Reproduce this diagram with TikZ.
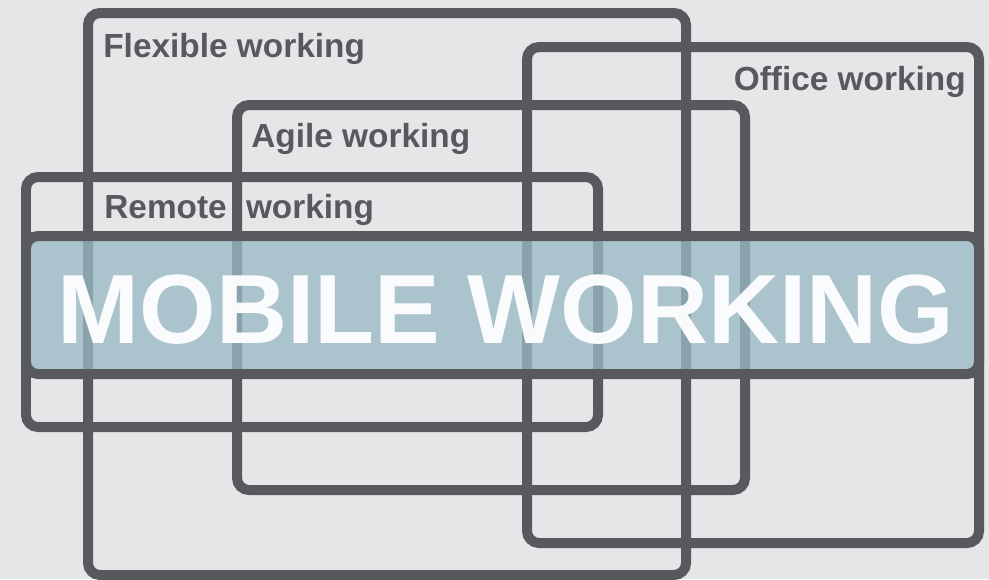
\documentclass[tikz,border=0pt]{standalone}
\usepackage{fontspec}
\setmainfont{Liberation Sans}
\usepackage{tikz}
\definecolor{bggray}{RGB}{229,230,232}
\definecolor{framegray}{RGB}{88,89,93}
\definecolor{mobileblue}{RGB}{154,185,197}
\tikzset{frame/.style={line width=0.2cm, draw=framegray, rounded corners=0.24cm}, lbl/.style={text=framegray, inner sep=0pt, font=\fontsize{19}{21}\selectfont\bfseries}}

\begin{document}
\begin{tikzpicture}[x=0.02cm,y=-0.02cm]
	% field
	\fill [bggray] (0,0) rectangle (989,579);
	\useasboundingbox (0,0) rectangle (989,579);
	
	% frames
	\draw [frame] (88,13) rectangle (686,575);
	\draw [frame] (527,47) rectangle (979,543);
	\draw [frame] (237,105) rectangle (745,490);
	\draw [frame] (26,177) rectangle (598,427);
	
	% labels
	\draw (103,57) node[lbl,anchor=base west] (flexlbl) {Flexible working};
	\draw (966,90) node[lbl,anchor=base east] (officelbl) {Office working};
	\draw (251,147) node[lbl,anchor=base west] (agilelbl) {Agile working};
	\draw (104,218) node[lbl,anchor=base west] (remotelbl) {Remote\hspace{0.3em} working};
	
	% mobile working band
	\fill [mobileblue,fill opacity=.77,rounded corners=0.24cm] (26,236) rectangle (979,374);
	\draw [frame] (26,236) rectangle (979,374);
	\draw (506,343) node[anchor=base,text=white,text opacity=.95,inner sep=0pt,font=\fontsize{56}{60}\selectfont\bfseries] (mobilelbl) {MOBILE WORKING};
\end{tikzpicture}
\end{document}
